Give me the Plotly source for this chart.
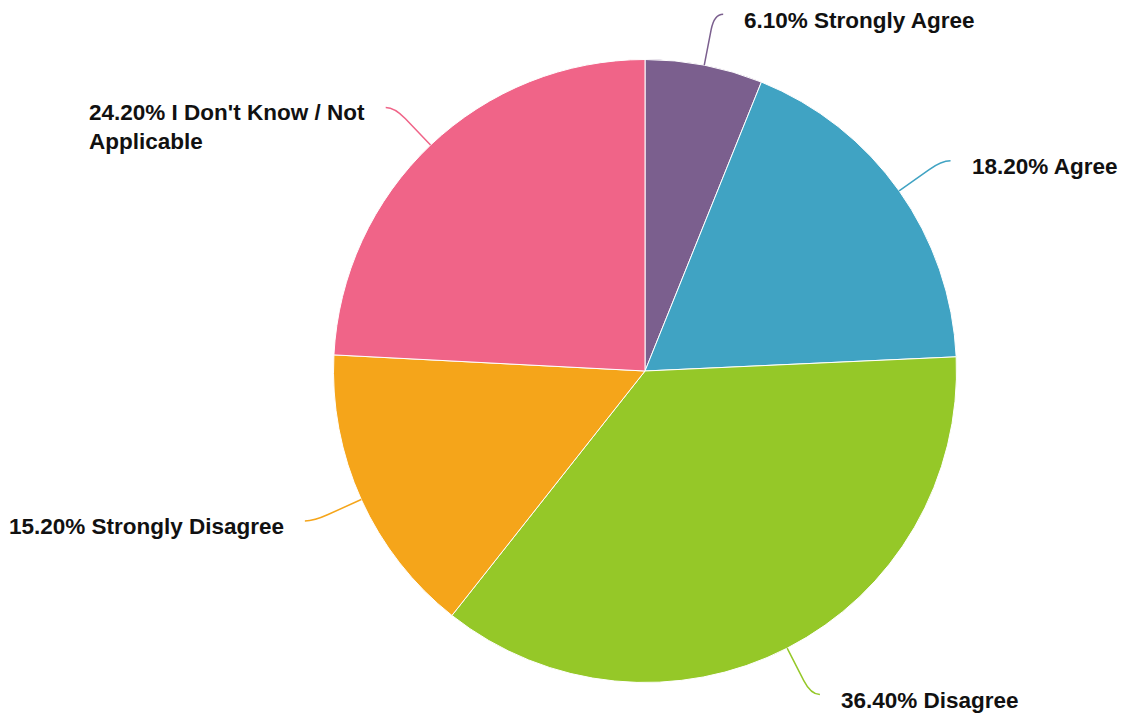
import math
import plotly.graph_objects as go

# Survey responses (percent of respondents), clockwise from 12 o'clock
labels = ["Strongly Agree", "Agree", "Disagree", "Strongly Disagree",
          "I Don't Know / Not Applicable"]
values = [6.1, 18.2, 36.4, 15.2, 24.2]
label_lines = ["Strongly Agree", "Agree", "Disagree", "Strongly Disagree",
               "I Don't Know / Not<br>Applicable"]
colors = ["#7B5F8E", "#40A3C3", "#95C828", "#F5A51A", "#F06488"]

W, H = 1125, 714
CX, CY, R = 645.0, 371.0, 311.5      # pie centre / radius in pixels
LEN1, LEN2 = 52.0, 9.0                # leader line: radial part, horizontal part
TEXT_GAP, TEXT_DY = 19.0, 6.0
FONT_SIZE = 22.5
LINE_H = 28.0


def px(x):
    return x / W


def py(y):
    return 1.0 - y / H


fig = go.Figure(go.Pie(
    labels=labels,
    values=values,
    sort=False,
    direction="clockwise",
    rotation=0,
    marker=dict(colors=colors, line=dict(color="white", width=1)),
    textinfo="none",
    hoverinfo="label+percent",
    showlegend=False,
    domain=dict(x=[px(CX - R), px(CX + R)], y=[py(CY + R), py(CY - R)]),
))

total = sum(values)
shapes, annotations = [], []
cum = 0.0
for lab, val, col in zip(label_lines, values, colors):
    mid = (cum + val / 2.0) / total * 2 * math.pi
    cum += val
    dx, dy = math.sin(mid), -math.cos(mid)
    p0 = (CX + R * dx, CY + R * dy)
    p1 = (CX + (R + LEN1) * dx, CY + (R + LEN1) * dy)
    side = 1 if dx >= 0 else -1
    p2 = (p1[0] + side * LEN2, p1[1])
    a = (p0[0] + 0.7 * (p1[0] - p0[0]), p0[1] + 0.7 * (p1[1] - p0[1]))
    path = (f"M {px(p0[0])},{py(p0[1])} L {px(a[0])},{py(a[1])} "
            f"Q {px(p1[0])},{py(p1[1])} {px(p2[0])},{py(p2[1])}")
    shapes.append(dict(type="path", path=path, xref="paper", yref="paper",
                       line=dict(color=col, width=1.5)))

    nlines = lab.count("<br>") + 1
    ty = p2[1] + TEXT_DY + (nlines - 1) * LINE_H / 2.0
    annotations.append(dict(
        x=px(p2[0] + side * TEXT_GAP), y=py(ty),
        xref="paper", yref="paper",
        xanchor="left" if side > 0 else "right", yanchor="middle",
        align="left", showarrow=False,
        text=f"<b>{val:.2f}% {lab}</b>",
        font=dict(family="Liberation Sans, Arial, sans-serif", size=FONT_SIZE,
                  color="#111111"),
    ))

fig.update_layout(
    width=W, height=H,
    margin=dict(l=0, r=0, t=0, b=0),
    paper_bgcolor="white",
    plot_bgcolor="white",
    shapes=shapes,
    annotations=annotations,
)

fig.write_html("out.html")
